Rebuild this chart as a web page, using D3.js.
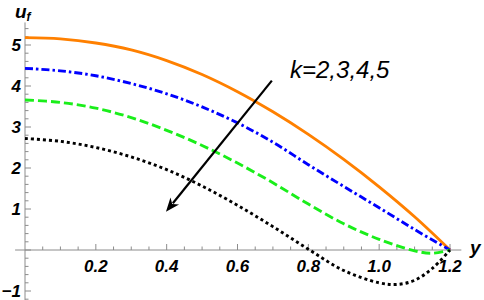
<!DOCTYPE html>
<html><head><meta charset="utf-8">
<script src="https://cdn.jsdelivr.net/npm/d3@7"></script>
<style>
html,body{margin:0;padding:0;background:#fff;}
svg{display:block;}
text{font-family:"Liberation Sans",Arial,sans-serif;}
</style></head>
<body>
<svg id="chart" width="484" height="300"></svg>
<script>
// ---- data ----
const yPos = [0, 0.1, 0.2, 0.3, 0.4, 0.5, 0.6, 0.7, 0.8, 0.9, 1.0, 1.1, 1.2];
const ufK2 = [5.18, 5.15, 5.05, 4.88, 4.62, 4.28, 3.86, 3.37, 2.82, 2.21, 1.54, 0.81, 0];
const ufK3 = [4.43, 4.37, 4.25, 4.06, 3.81, 3.49, 3.10, 2.63, 2.08, 1.55, 1.03, 0.50, 0];
const yPosG = [0, 0.1, 0.2, 0.3, 0.4, 0.5, 0.6, 0.7, 0.8, 0.9, 1.0, 1.1, 1.15, 1.2];
const ufK4 = [3.66, 3.60, 3.46, 3.23, 2.92, 2.55, 2.12, 1.64, 1.12, 0.64, 0.26, -0.02, -0.08, 0];
const yPosB = [0, 0.1, 0.2, 0.3, 0.4, 0.5, 0.6, 0.7, 0.8, 0.9, 1.0, 1.05, 1.1, 1.15, 1.2];
const ufK5 = [2.72, 2.65, 2.50, 2.27, 1.96, 1.56, 1.09, 0.57, 0.02, -0.50, -0.80, -0.84, -0.74, -0.45, 0];
const xTicks = [0.2, 0.4, 0.6, 0.8, 1.0, 1.2];
const xTickLabels = ["0.2", "0.4", "0.6", "0.8", "1.0", "1.2"];
const yTicks = [-1, 1, 2, 3, 4, 5];
const yTickLabels = ["\u22121", "1", "2", "3", "4", "5"];
const arrowFrom = [0.697, 4.13];
const arrowTo = [0.398, 0.93];
const annotation = "k=2,3,4,5";

// ---- layout ----
const svg = d3.select("#chart");
const x = d3.scaleLinear().domain([0, 1.2]).range([25, 450]);
const y = d3.scaleLinear().domain([0, 5]).range([250, 45]);
const axisColor = "#8c8c8c";

// axes lines
svg.append("line").attr("x1", x(-0.028)).attr("x2", x(1.232)).attr("y1", y(0)).attr("y2", y(0))
  .attr("stroke", axisColor).attr("stroke-width", 1);
svg.append("line").attr("x1", x(0)).attr("x2", x(0)).attr("y1", y(5.55)).attr("y2", y(-1.25))
  .attr("stroke", axisColor).attr("stroke-width", 1);

// x ticks (inward, upward)
const xMinor = d3.range(0.05, 1.2001, 0.05);
svg.append("g").selectAll("line").data(xMinor).join("line")
  .attr("x1", d => x(d)).attr("x2", d => x(d))
  .attr("y1", y(0)).attr("y2", d => y(0) - (xTicks.some(t => Math.abs(t - d) < 1e-6) ? 6 : 3.5))
  .attr("stroke", axisColor).attr("stroke-width", 1);
svg.append("g").selectAll("text").data(xTicks).join("text")
  .attr("x", d => x(d)).attr("y", 272)
  .attr("text-anchor", "middle").attr("font-size", 17).attr("font-weight", "bold").attr("font-style", "italic")
  .text((d, i) => xTickLabels[i]);

// y ticks (inward, rightward)
const yMinor = d3.range(-1.2, 5.5001, 0.2).map(v => Math.round(v * 10) / 10);
svg.append("g").selectAll("line").data(yMinor).join("line")
  .attr("x1", x(0)).attr("x2", d => x(0) + (Math.abs(d - Math.round(d)) < 1e-6 ? 6 : 3.5))
  .attr("y1", d => y(d)).attr("y2", d => y(d))
  .attr("stroke", axisColor).attr("stroke-width", 1);
svg.append("g").selectAll("text").data(yTicks).join("text")
  .attr("x", 21).attr("y", d => y(d)).attr("dy", "0.36em")
  .attr("text-anchor", "end").attr("font-size", 17).attr("font-weight", "bold").attr("font-style", "italic")
  .text((d, i) => yTickLabels[i]);

// axis labels
const ul = svg.append("text").attr("x", 15).attr("y", 18).attr("font-size", 19)
  .attr("font-weight", "bold").attr("font-style", "italic");
ul.append("tspan").text("u");
ul.append("tspan").attr("font-size", 12).attr("dy", 3).text("f");
svg.append("text").attr("x", 470).attr("y", 254).attr("font-size", 19)
  .attr("font-weight", "bold").attr("font-style", "italic").text("y");

// curves
const line = d3.line().x(d => x(d[0])).y(d => y(d[1])).curve(d3.curveCatmullRom.alpha(0.5));
const series = [
  {xs: yPos, ys: ufK2, color: "#ff8000", dash: null},
  {xs: yPos, ys: ufK3, color: "#0000ff", dash: "8,3,2.5,3"},
  {xs: yPosG, ys: ufK4, color: "#1aee1a", dash: "9,4"},
  {xs: yPosB, ys: ufK5, color: "#000000", dash: "3,3"}
];
series.forEach(s => {
  svg.append("path").datum(s.xs.map((v, i) => [v, s.ys[i]]))
    .attr("d", line).attr("fill", "none").attr("stroke", s.color)
    .attr("stroke-width", 2.9).attr("stroke-dasharray", s.dash);
});

// arrow
const ax1 = x(arrowFrom[0]), ay1 = y(arrowFrom[1]), ax2 = x(arrowTo[0]), ay2 = y(arrowTo[1]);
const ang = Math.atan2(ay2 - ay1, ax2 - ax1);
const hl = 14, hw = 5.5;
const bx = ax2 - hl * Math.cos(ang), by = ay2 - hl * Math.sin(ang);
svg.append("line").attr("x1", ax1).attr("y1", ay1)
  .attr("x2", ax2 - (hl - 3) * Math.cos(ang)).attr("y2", ay2 - (hl - 3) * Math.sin(ang))
  .attr("stroke", "#000").attr("stroke-width", 2.2);
const nx = -Math.sin(ang), ny = Math.cos(ang);
const notch = [ax2 - (hl - 4) * Math.cos(ang), ay2 - (hl - 4) * Math.sin(ang)];
svg.append("path")
  .attr("d", `M${ax2},${ay2} L${bx + hw * nx},${by + hw * ny} L${notch[0]},${notch[1]} L${bx - hw * nx},${by - hw * ny} Z`)
  .attr("fill", "#000");

svg.append("text").attr("x", 290).attr("y", 78).attr("font-size", 24).attr("font-style", "italic")
  .text(annotation);
</script>
</body></html>
